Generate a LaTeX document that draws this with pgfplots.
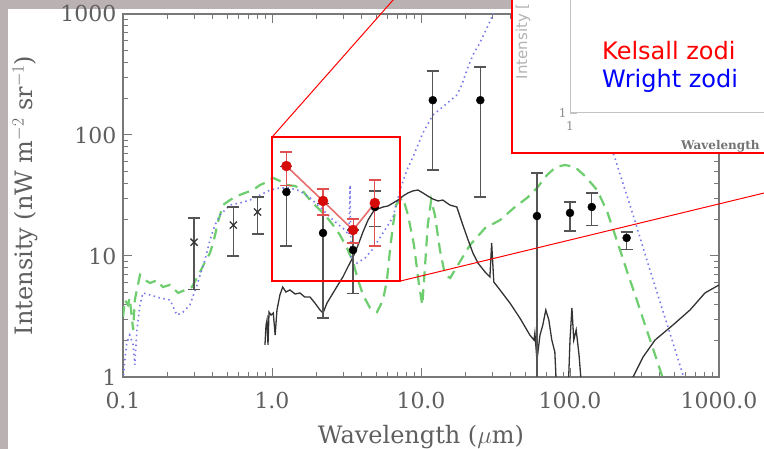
\documentclass[border=0pt]{standalone}
\usepackage{fontspec}
\setmainfont{DejaVu Serif}
\newfontfamily\zsans{DejaVu Sans}
\usepackage{pgfplots}
\pgfplotsset{compat=1.18}
\definecolor{bggrey}{RGB}{186,178,178}
\definecolor{axgrey}{RGB}{120,120,120}
\definecolor{txtgrey}{RGB}{95,95,95}
\definecolor{zgreen}{RGB}{110,205,110}
\definecolor{zblue}{RGB}{120,120,235}
\definecolor{ebgrey}{RGB}{85,85,85}
\definecolor{redline}{RGB}{232,110,110}
\definecolor{reddot}{RGB}{215,10,10}
\definecolor{redbar}{RGB}{225,80,80}
\definecolor{insetgrey}{RGB}{195,195,195}
\definecolor{boxred}{RGB}{255,0,0}
\begin{document}
\begin{tikzpicture}
\path[use as bounding box] (0pt,0pt) rectangle (764pt,449pt);
\begin{scope}
\clip (0pt,0pt) rectangle (764pt,449pt);
\fill[bggrey] (0pt,0pt) rectangle (764pt,449pt);
\fill[white] (8pt,0pt) rectangle (764pt,440pt);
\begin{axis}[at={(123pt,72pt)}, anchor=south west, scale only axis,
  width=596pt, height=363pt,
  xmode=log, ymode=log, xmin=0.1, xmax=1000, ymin=1, ymax=1000,
  axis line style={axgrey, line width=1.2pt},
  tick style={axgrey, line width=1pt},
  major tick length=9pt, minor tick length=5pt,
  xtick={0.1,1,10,100,1000}, xticklabels={0.1,1.0,10.0,100.0,1000.0},
  ytick={1,10,100,1000}, yticklabels={1,10,100,1000},
  ticklabel style={font=\fontsize{22}{26}\selectfont, text=txtgrey},
  xticklabel style={yshift=-12pt},
  yticklabel style={xshift=-3pt},
  xlabel={Wavelength ($\mu$m)}, ylabel={Intensity (nW m$^{-2}$ sr$^{-1}$)},
  label style={font=\fontsize{24}{28}\selectfont, text=txtgrey},
  xlabel style={at={(axis description cs:0.5,-0.165)}, anchor=center},
  ylabel style={at={(axis description cs:-0.164,0.5)}, anchor=center},
  clip=true]
% green dashed
\addplot[zgreen, line width=2.2pt, dash pattern=on 11pt off 7pt] table {
0.100 3.13
0.103 4.33
0.108 3.94
0.111 4.5
0.117 2.45
0.120 4.33
0.130 6.97
0.141 6.3
0.152 5.98
0.169 6.3
0.185 5.54
0.207 5.77
0.234 4.95
0.261 5.24
0.290 5.54
0.329 7.38
0.355 8.92
0.384 10.6
0.408 13.6
0.434 19.1
0.469 26.4
0.522 29.0
0.582 31.3
0.659 33.2
0.745 35.1
0.831 38.6
0.925 40.9
1.02 44.1
1.13 41.7
1.26 38.6
1.43 37.9
1.59 35.1
1.80 29.0
2.00 25.4
2.27 21.8
2.57 18.0
2.86 14.9
3.19 11.6
3.50 8.92
3.78 6.34
4.08 4.76
4.55 3.72
5.07 3.44
5.56 4.33
5.91 6.34
6.19 11.2
6.49 18.0
6.80 26.4
7.23 29.0
7.57 30.2
8.18 21.8
8.97 12.3
9.70 5.76
10.2 3.94
10.6 7.66
11.1 18.0
11.7 29.0
12.4 21.8
13.4 11.2
14.5 6.97
15.7 6.58
17.7 8.43
21.3 12.3
26.9 17.0
33.9 19.8
42.7 25.4
51.5 30.2
60.1 36.5
70.1 46.7
80.5 54.4
92.5 56.5
108 54.4
126 45.8
152 35.1
177 23.5
207 13.3
241 7.52
282 4.25
329 2.40
384 1.36
428 0.91
};
% blue dotted
\addplot[zblue, line width=1.6pt, dash pattern=on 1.5pt off 3.5pt] table {
0.100 0.94
0.103 1.38
0.106 1.91
0.111 2.22
0.117 1.84
0.120 1.26
0.124 2.45
0.130 3.94
0.136 4.95
0.152 4.76
0.177 4.5
0.207 4.33
0.230 3.25
0.253 3.44
0.281 3.94
0.314 5.76
0.355 9.27
0.384 13.6
0.414 18.0
0.448 21.8
0.522 26.4
0.610 27.4
0.712 29.0
0.831 31.9
0.970 35.1
1.13 36.5
1.32 36.5
1.54 34.5
1.80 30.2
2.10 25.4
2.57 19.8
3.09 16.4
3.28 14.9
3.34 38.6
3.39 9.27
3.72 8.75
4.21 9.62
4.69 11.2
5.56 15.5
6.49 21.0
7.23 35.1
8.05 51.4
8.83 65.8
10.3 104
12.0 146
14.5 177
17.4 214
18.8 259
20.3 344
22.3 458
24.8 576
27.7 766
30.5 1000
34.0 1306
46.2 2310
73.4 2795
108 1435
136 307
172 110
200 64.6
265 21.8
344 7.66
448 2.74
573 1.04
619 0.77
};
% black solid spectrum
\addplot[black!80, line width=1.3pt] table {
0.897 1.84
0.912 2.69
0.926 2.96
0.940 1.84
0.955 3.44
0.985 3.25
1.02 3.38
1.05 2.22
1.08 3.58
1.13 4.76
1.18 5.54
1.24 5.04
1.32 5.24
1.43 4.85
1.54 4.95
1.66 4.58
1.80 4.58
1.94 4.09
2.10 3.58
2.20 3.38
2.34 4.09
2.57 4.95
2.77 5.76
2.99 6.71
3.23 8.11
3.50 9.8
3.78 12.3
4.08 15.8
4.41 19.8
4.76 23.1
5.14 24.5
5.56 25.4
6.00 25.9
6.49 27.4
7.01 29.0
7.57 31.3
8.18 33.2
8.83 34.5
9.54 35.1
10.3 33.2
11.1 31.3
12.0 29.6
13.0 28.5
14.0 29.0
15.6 26.4
17.4 25.4
19.1 18.0
20.7 13.6
22.3 10.6
24.1 8.75
26.9 7.38
29.0 6.71
29.8 12.8
30.8 6.1
33.9 5.24
39.5 4.09
46.1 3.07
53.8 2.22
57.3 2.02
58.1 2.31
60.0 1.38
62.9 2.22
65.7 2.69
68.8 3.58
72.1 2.96
75.5 2.02
79.1 1.61
81.3 0.78
97.3 0.78
100 2.02
103 3.72
106 2.02
110 2.45
115 1.52
120 0.78
253 0.78
265 1.0
309 1.46
372 2.02
491 2.69
639 3.58
805 4.95
1000 5.76
};
% crosses with error bars
\addplot[only marks, mark=x, mark size=5pt, black!80, line width=1.3pt,
  error bars/.cd, y dir=both, y explicit,
  error bar style={ebgrey, line width=1.2pt},
  error mark options={rotate=90, mark size=6pt, ebgrey, line width=1.2pt}]
  table[x=x, y=y, y error plus=ep, y error minus=em] {
x y ep em
0.30 13.0 7.6 7.7
0.55 18.0 7.4 8.0
0.80 23.1 7.6 7.9
};
% black points
\addplot[only marks, mark=*, mark size=4pt, black,
  error bars/.cd, y dir=both, y explicit,
  error bar style={ebgrey, line width=1.2pt},
  error mark options={rotate=90, mark size=6pt, ebgrey, line width=1.2pt}]
  table[x=x, y=y, y error plus=ep, y error minus=em] {
x y ep em
1.25 33.8 21.2 21.7
2.2 15.5 11.5 12.43
3.5 11.2 5.2 6.3
4.9 25.4 9.1 8.0
12 194 144 142.6
25 194 171 163.3
60 21.4 27.1 20.5
100 22.7 5.2 6.6
140 25.4 7.8 7.4
240 14.1 1.7 2.7
};
% red line
\addplot[redline, line width=1.6pt] table {
1.25 55.4
2.2 28.5
3.5 16.4
4.9 27.4
};
% red points
\addplot[only marks, mark=*, mark size=5pt, reddot,
  error bars/.cd, y dir=both, y explicit,
  error bar style={redbar, line width=1.1pt},
  error mark options={rotate=90, mark size=6pt, redbar, line width=1.1pt}]
  table[x=x, y=y, y error plus=ep, y error minus=em] {
x y ep em
1.25 55.4 17.0 17.0
2.2 28.5 7.3 6.7
3.5 16.4 3.8 3.6
4.9 27.4 15.1 15.3
};
\coordinate (zTL) at (axis cs:1,96);
\coordinate (zBR) at (axis cs:7.23,6.2);
\end{axis}
\draw[draw=boxred, line width=1.4pt] (zTL) -- (zTL -| zBR) -- (zBR) -- (zBR -| zTL) -- cycle;
% inset
\begin{scope}
\clip (512pt,296pt) rectangle (764pt,449pt);
\fill[white] (512pt,296pt) rectangle (764pt,449pt);
\begin{axis}[at={(570pt,336pt)}, anchor=south west, scale only axis,
  width=298pt, height=240pt,
  xmode=log, ymode=log, xmin=1, xmax=100, ymin=1, ymax=100,
  axis x line*=bottom, axis y line*=left,
  axis line style={-, insetgrey, line width=1pt},
  tick style={insetgrey, line width=0.8pt},
  major tick length=7pt, minor tick length=4pt,
  xtick={1}, xticklabels={1}, ytick={1}, yticklabels={1},
  ticklabel style={font=\fontsize{12}{14}\selectfont, text=black!45},
  xticklabel style={yshift=-5pt}]
\addplot[draw=none] coordinates {(1,1)};
\end{axis}
\node[rotate=90, anchor=east, text=black!30, font=\zsans\fontsize{15}{18}\selectfont, inner sep=0pt] at (523pt,446pt) {Intensity [};
\node[anchor=base west, text=black!55, font=\bfseries\fontsize{12}{14}\selectfont, inner sep=0pt] at (681pt,299pt) {Wavelength};
\node[anchor=base west, text=red, font=\zsans\fontsize{24}{28}\selectfont, inner sep=0pt] at (602pt,389pt) {Kelsall zodi};
\node[anchor=base west, text=blue, font=\zsans\fontsize{24}{28}\selectfont, inner sep=0pt] at (602pt,361pt) {Wright zodi};
\end{scope}
\draw[draw=boxred, line width=1.2pt] (512pt,460pt) -- (512pt,296pt) -- (780pt,296pt);
% connector lines
\draw[draw=boxred, line width=1pt] (zTL) -- ++(130.7pt,148pt);
\draw[draw=boxred, line width=1pt] (zBR) -- ++(400pt,96.8pt);
\end{scope}
\end{tikzpicture}
\end{document}
